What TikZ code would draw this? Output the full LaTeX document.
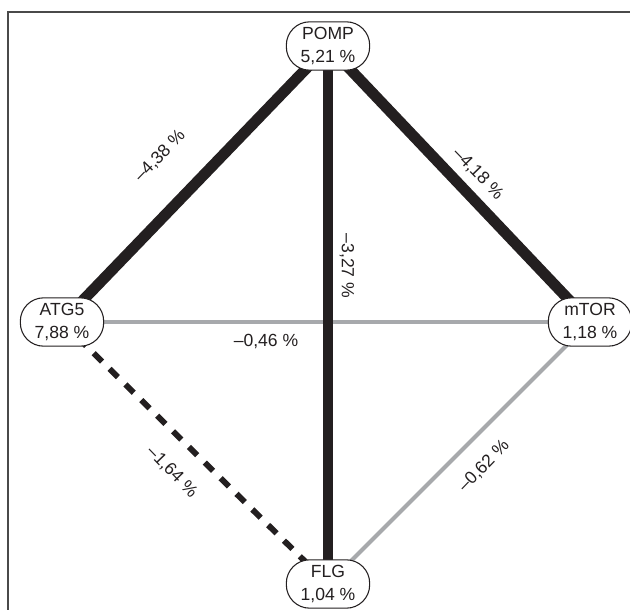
\documentclass[tikz,border=0pt]{standalone}
\usepackage{fontspec}
\setmainfont{Liberation Sans}
\usetikzlibrary{backgrounds}
\definecolor{ink}{HTML}{231F20}
\definecolor{lgray}{HTML}{A7A9AC}
\definecolor{frame}{HTML}{4A4A4A}
\begin{document}
\begin{tikzpicture}[x=0.03cm,y=-0.03cm,
  gene/.style={draw=ink,line width=0.9pt,fill=white,rounded corners=0.7cm,
    minimum width=2.5cm,minimum height=1.45cm,inner sep=1pt,align=center,
    font=\fontsize{15}{19}\selectfont,text=ink},
  strong/.style={draw=ink,line width=9.3pt},
  weak/.style={draw=lgray,line width=3.6pt},
  dashedge/.style={draw=ink,line width=5pt,dash pattern=on 10pt off 9pt},
  lab/.style={font=\fontsize{15}{17}\selectfont,text=ink,inner sep=0pt}]
\useasboundingbox (0,0) rectangle (630,610);
\draw[frame,line width=1.6pt] (8,610) -- (8,12) -- (630,12);
\node[gene] (pomp) at (328,46) {POMP\\5,21 \%};
\node[gene] (atg) at (62,322) {ATG5\\7,88 \%};
\node[gene] (mtor) at (590,322) {mTOR\\1,18 \%};
\node[gene] (flg) at (328,584) {FLG\\1,04 \%};
\begin{pgfonlayer}{background}
\draw[weak] (atg.center) -- (mtor.center);
\draw[weak] (mtor.center) -- (flg.center);
\draw[dashedge] (atg.center) -- (flg.center);
\draw[strong] (pomp.center) -- (atg.center);
\draw[strong] (pomp.center) -- (mtor.center);
\draw[strong] (pomp.center) -- (flg.center);
\end{pgfonlayer}
\node[lab,rotate=46] (l1) at (160,156) {–4,38 \%};
\node[lab,rotate=-46] (l2) at (478,174) {–4,18 \%};
\node[lab,rotate=-90] (l3) at (347,266) {–3,27 \%};
\node[lab] (l4) at (266,341) {–0,46 \%};
\node[lab,rotate=-46] (l5) at (172,472) {–1,64 \%};
\node[lab,rotate=46] (l6) at (484,466) {–0,62 \%};
\end{tikzpicture}
\end{document}
